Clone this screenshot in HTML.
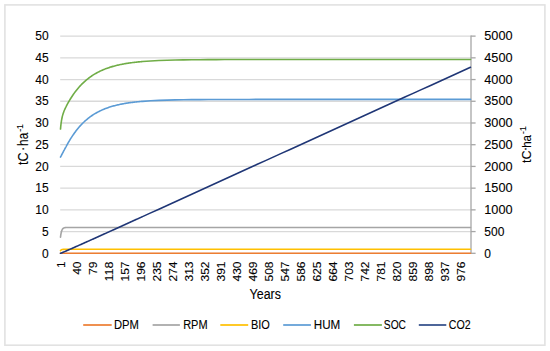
<!DOCTYPE html>
<html><head><meta charset="utf-8"><style>
html,body{margin:0;padding:0;background:#fff;}
body{width:550px;height:351px;overflow:hidden;}
svg{display:block;}
text{font-family:"Liberation Sans",sans-serif;fill:#000;stroke:#000;stroke-width:0.1px;}
</style></head><body>
<svg width="550" height="351" viewBox="0 0 550 351">
<rect x="0" y="0" width="550" height="351" fill="#fff"/>
<rect x="4.9" y="4.9" width="540" height="340.3" fill="none" stroke="#e2e2e2" stroke-width="1.6"/>
<g stroke="#d9d9d9" stroke-width="1.3"><line x1="60.2" y1="231.58" x2="471.0" y2="231.58"/><line x1="60.2" y1="209.86" x2="471.0" y2="209.86"/><line x1="60.2" y1="188.15" x2="471.0" y2="188.15"/><line x1="60.2" y1="166.43" x2="471.0" y2="166.43"/><line x1="60.2" y1="144.71" x2="471.0" y2="144.71"/><line x1="60.2" y1="122.99" x2="471.0" y2="122.99"/><line x1="60.2" y1="101.27" x2="471.0" y2="101.27"/><line x1="60.2" y1="79.56" x2="471.0" y2="79.56"/><line x1="60.2" y1="57.84" x2="471.0" y2="57.84"/><line x1="60.2" y1="36.12" x2="471.0" y2="36.12"/></g>
<line x1="60.2" y1="253.30" x2="471.0" y2="253.30" stroke="#d9d9d9" stroke-width="1.3"/>
<g stroke="#a6a6a6" stroke-width="1.3"><line x1="471.0" y1="253.30" x2="475.6" y2="253.30"/><line x1="471.0" y1="231.58" x2="475.6" y2="231.58"/><line x1="471.0" y1="209.86" x2="475.6" y2="209.86"/><line x1="471.0" y1="188.15" x2="475.6" y2="188.15"/><line x1="471.0" y1="166.43" x2="475.6" y2="166.43"/><line x1="471.0" y1="144.71" x2="475.6" y2="144.71"/><line x1="471.0" y1="122.99" x2="475.6" y2="122.99"/><line x1="471.0" y1="101.27" x2="475.6" y2="101.27"/><line x1="471.0" y1="79.56" x2="475.6" y2="79.56"/><line x1="471.0" y1="57.84" x2="475.6" y2="57.84"/><line x1="471.0" y1="36.12" x2="475.6" y2="36.12"/><line x1="471.0" y1="35.62" x2="471.0" y2="253.80"/></g>
<polyline points="60.50,253.21 61.32,253.21 62.14,253.21 62.96,253.21 63.78,253.21 64.60,253.21 65.42,253.21 66.24,253.21 67.06,253.21 67.88,253.21 68.70,253.21 69.52,253.21 70.34,253.21 71.16,253.21 71.98,253.21 72.80,253.21 73.62,253.21 74.44,253.21 75.26,253.21 76.08,253.21 76.90,253.21 77.72,253.21 78.54,253.21 79.36,253.21 80.18,253.21 81.00,253.21 81.82,253.21 82.64,253.21 83.46,253.21 84.28,253.21 85.10,253.21 85.92,253.21 86.74,253.21 87.56,253.21 88.38,253.21 89.20,253.21 90.02,253.21 90.84,253.21 91.66,253.21 92.48,253.21 93.30,253.21 94.12,253.21 94.94,253.21 95.76,253.21 96.58,253.21 97.40,253.21 98.22,253.21 99.04,253.21 99.86,253.21 100.68,253.21 101.50,253.21 102.32,253.21 103.14,253.21 103.96,253.21 104.78,253.21 105.60,253.21 106.42,253.21 107.24,253.21 108.06,253.21 108.88,253.21 109.70,253.21 110.52,253.21 111.34,253.21 112.16,253.21 112.98,253.21 113.80,253.21 114.62,253.21 115.44,253.21 116.26,253.21 117.08,253.21 117.90,253.21 118.72,253.21 119.54,253.21 120.36,253.21 121.18,253.21 122.00,253.21 122.82,253.21 123.64,253.21 124.46,253.21 125.28,253.21 126.10,253.21 126.92,253.21 127.74,253.21 128.56,253.21 129.38,253.21 130.20,253.21 131.02,253.21 131.84,253.21 132.66,253.21 133.48,253.21 134.30,253.21 135.12,253.21 135.94,253.21 136.76,253.21 137.58,253.21 138.40,253.21 139.22,253.21 140.04,253.21 140.86,253.21 141.68,253.21 142.50,253.21 150.70,253.21 158.90,253.21 167.10,253.21 175.30,253.21 183.50,253.21 191.70,253.21 199.90,253.21 208.10,253.21 216.30,253.21 224.50,253.21 232.70,253.21 240.90,253.21 249.10,253.21 257.30,253.21 265.50,253.21 273.70,253.21 281.90,253.21 290.10,253.21 298.30,253.21 306.50,253.21 314.70,253.21 322.90,253.21 331.10,253.21 339.30,253.21 347.50,253.21 355.70,253.21 363.90,253.21 372.10,253.21 380.30,253.21 388.50,253.21 396.70,253.21 404.90,253.21 413.10,253.21 421.30,253.21 429.50,253.21 437.70,253.21 445.90,253.21 454.10,253.21 462.30,253.21 470.50,253.21" fill="none" stroke="#ED7D31" stroke-width="1.6" stroke-linejoin="round" stroke-linecap="round"/>
<polyline points="60.50,237.19 60.70,235.58 60.91,234.24 61.12,233.13 61.32,232.19 61.52,231.41 61.73,230.76 61.94,230.22 62.14,229.76 62.34,229.38 62.55,229.06 62.76,228.80 62.96,228.58 63.16,228.39 63.37,228.24 63.58,228.11 63.78,228.00 63.98,227.91 64.19,227.84 64.39,227.77 64.60,227.72 64.81,227.68 65.01,227.64 65.22,227.61 65.42,227.58 65.62,227.56 65.83,227.55 66.03,227.53 66.24,227.52 66.44,227.51 66.65,227.50 66.86,227.49 67.06,227.49 67.27,227.48 67.47,227.48 67.67,227.47 67.88,227.47 68.08,227.47 68.29,227.47 68.50,227.46 68.70,227.46 69.52,227.46 70.34,227.46 71.16,227.46 71.98,227.46 72.80,227.46 73.62,227.46 74.44,227.46 75.26,227.46 76.08,227.46 76.90,227.46 77.72,227.46 78.54,227.46 79.36,227.46 80.18,227.46 81.00,227.46 81.82,227.46 82.64,227.46 83.46,227.46 84.28,227.46 85.10,227.46 85.92,227.46 86.74,227.46 87.56,227.46 88.38,227.46 89.20,227.46 90.02,227.46 90.84,227.46 91.66,227.46 92.48,227.46 93.30,227.46 94.12,227.46 94.94,227.46 95.76,227.46 96.58,227.46 97.40,227.46 98.22,227.46 99.04,227.46 99.86,227.46 100.68,227.46 101.50,227.46 102.32,227.46 103.14,227.46 103.96,227.46 104.78,227.46 105.60,227.46 106.42,227.46 107.24,227.46 108.06,227.46 108.88,227.46 109.70,227.46 110.52,227.46 111.34,227.46 112.16,227.46 112.98,227.46 113.80,227.46 114.62,227.46 115.44,227.46 116.26,227.46 117.08,227.46 117.90,227.46 118.72,227.46 119.54,227.46 120.36,227.46 121.18,227.46 122.00,227.46 122.82,227.46 123.64,227.46 124.46,227.46 125.28,227.46 126.10,227.46 126.92,227.46 127.74,227.46 128.56,227.46 129.38,227.46 130.20,227.46 131.02,227.46 131.84,227.46 132.66,227.46 133.48,227.46 134.30,227.46 135.12,227.46 135.94,227.46 136.76,227.46 137.58,227.46 138.40,227.46 139.22,227.46 140.04,227.46 140.86,227.46 141.68,227.46 142.50,227.46 150.70,227.46 158.90,227.46 167.10,227.46 175.30,227.46 183.50,227.46 191.70,227.46 199.90,227.46 208.10,227.46 216.30,227.46 224.50,227.46 232.70,227.46 240.90,227.46 249.10,227.46 257.30,227.46 265.50,227.46 273.70,227.46 281.90,227.46 290.10,227.46 298.30,227.46 306.50,227.46 314.70,227.46 322.90,227.46 331.10,227.46 339.30,227.46 347.50,227.46 355.70,227.46 363.90,227.46 372.10,227.46 380.30,227.46 388.50,227.46 396.70,227.46 404.90,227.46 413.10,227.46 421.30,227.46 429.50,227.46 437.70,227.46 445.90,227.46 454.10,227.46 462.30,227.46 470.50,227.46" fill="none" stroke="#A5A5A5" stroke-width="1.6" stroke-linejoin="round" stroke-linecap="round"/>
<polyline points="60.50,250.69 60.70,250.41 60.91,250.19 61.12,250.01 61.32,249.87 61.52,249.76 61.73,249.66 61.94,249.59 62.14,249.53 62.34,249.49 62.55,249.45 62.76,249.42 62.96,249.40 63.16,249.38 63.37,249.36 63.58,249.35 63.78,249.34 63.98,249.33 64.19,249.33 64.39,249.32 64.60,249.32 64.81,249.32 65.01,249.31 65.22,249.31 65.42,249.31 65.62,249.31 65.83,249.31 66.03,249.31 66.24,249.31 66.44,249.31 66.65,249.31 66.86,249.31 67.06,249.30 67.27,249.30 67.47,249.30 67.67,249.30 67.88,249.30 68.08,249.30 68.29,249.30 68.50,249.30 68.70,249.30 69.52,249.30 70.34,249.30 71.16,249.30 71.98,249.30 72.80,249.30 73.62,249.30 74.44,249.30 75.26,249.30 76.08,249.30 76.90,249.30 77.72,249.30 78.54,249.30 79.36,249.30 80.18,249.30 81.00,249.30 81.82,249.30 82.64,249.30 83.46,249.30 84.28,249.30 85.10,249.30 85.92,249.30 86.74,249.30 87.56,249.30 88.38,249.30 89.20,249.30 90.02,249.30 90.84,249.30 91.66,249.30 92.48,249.30 93.30,249.30 94.12,249.30 94.94,249.30 95.76,249.30 96.58,249.30 97.40,249.30 98.22,249.30 99.04,249.30 99.86,249.30 100.68,249.30 101.50,249.30 102.32,249.30 103.14,249.30 103.96,249.30 104.78,249.30 105.60,249.30 106.42,249.30 107.24,249.30 108.06,249.30 108.88,249.30 109.70,249.30 110.52,249.30 111.34,249.30 112.16,249.30 112.98,249.30 113.80,249.30 114.62,249.30 115.44,249.30 116.26,249.30 117.08,249.30 117.90,249.30 118.72,249.30 119.54,249.30 120.36,249.30 121.18,249.30 122.00,249.30 122.82,249.30 123.64,249.30 124.46,249.30 125.28,249.30 126.10,249.30 126.92,249.30 127.74,249.30 128.56,249.30 129.38,249.30 130.20,249.30 131.02,249.30 131.84,249.30 132.66,249.30 133.48,249.30 134.30,249.30 135.12,249.30 135.94,249.30 136.76,249.30 137.58,249.30 138.40,249.30 139.22,249.30 140.04,249.30 140.86,249.30 141.68,249.30 142.50,249.30 150.70,249.30 158.90,249.30 167.10,249.30 175.30,249.30 183.50,249.30 191.70,249.30 199.90,249.30 208.10,249.30 216.30,249.30 224.50,249.30 232.70,249.30 240.90,249.30 249.10,249.30 257.30,249.30 265.50,249.30 273.70,249.30 281.90,249.30 290.10,249.30 298.30,249.30 306.50,249.30 314.70,249.30 322.90,249.30 331.10,249.30 339.30,249.30 347.50,249.30 355.70,249.30 363.90,249.30 372.10,249.30 380.30,249.30 388.50,249.30 396.70,249.30 404.90,249.30 413.10,249.30 421.30,249.30 429.50,249.30 437.70,249.30 445.90,249.30 454.10,249.30 462.30,249.30 470.50,249.30" fill="none" stroke="#FFC000" stroke-width="1.6" stroke-linejoin="round" stroke-linecap="round"/>
<polyline points="60.50,157.05 60.70,156.67 60.91,156.29 61.12,155.91 61.32,155.52 61.52,155.14 61.73,154.75 61.94,154.36 62.14,153.97 62.34,153.58 62.55,153.19 62.76,152.80 62.96,152.41 63.16,152.02 63.37,151.63 63.58,151.24 63.78,150.85 63.98,150.46 64.19,150.08 64.39,149.69 64.60,149.30 64.81,148.92 65.01,148.54 65.22,148.15 65.42,147.77 65.62,147.39 65.83,147.02 66.03,146.64 66.24,146.27 66.44,145.89 66.65,145.52 66.86,145.15 67.06,144.79 67.27,144.42 67.47,144.06 67.67,143.70 67.88,143.34 68.08,142.98 68.29,142.63 68.50,142.27 68.70,141.92 69.52,140.54 70.34,139.20 71.16,137.89 71.98,136.62 72.80,135.39 73.62,134.19 74.44,133.03 75.26,131.91 76.08,130.82 76.90,129.77 77.72,128.75 78.54,127.77 79.36,126.81 80.18,125.89 81.00,125.00 81.82,124.13 82.64,123.30 83.46,122.49 84.28,121.72 85.10,120.96 85.92,120.23 86.74,119.53 87.56,118.85 88.38,118.19 89.20,117.56 90.02,116.95 90.84,116.35 91.66,115.78 92.48,115.23 93.30,114.69 94.12,114.18 94.94,113.68 95.76,113.19 96.58,112.73 97.40,112.28 98.22,111.84 99.04,111.42 99.86,111.02 100.68,110.62 101.50,110.24 102.32,109.88 103.14,109.52 103.96,109.18 104.78,108.85 105.60,108.53 106.42,108.22 107.24,107.92 108.06,107.64 108.88,107.36 109.70,107.09 110.52,106.83 111.34,106.58 112.16,106.34 112.98,106.10 113.80,105.88 114.62,105.66 115.44,105.45 116.26,105.24 117.08,105.04 117.90,104.85 118.72,104.67 119.54,104.49 120.36,104.32 121.18,104.15 122.00,103.99 122.82,103.84 123.64,103.69 124.46,103.54 125.28,103.40 126.10,103.27 126.92,103.14 127.74,103.01 128.56,102.89 129.38,102.77 130.20,102.66 131.02,102.55 131.84,102.44 132.66,102.34 133.48,102.24 134.30,102.14 135.12,102.05 135.94,101.96 136.76,101.88 137.58,101.79 138.40,101.71 139.22,101.63 140.04,101.56 140.86,101.49 141.68,101.41 142.50,101.35 150.70,100.78 158.90,100.38 167.10,100.10 175.30,99.90 183.50,99.75 191.70,99.65 199.90,99.58 208.10,99.53 216.30,99.49 224.50,99.47 232.70,99.45 240.90,99.44 249.10,99.43 257.30,99.42 265.50,99.42 273.70,99.41 281.90,99.41 290.10,99.41 298.30,99.41 306.50,99.41 314.70,99.41 322.90,99.41 331.10,99.41 339.30,99.41 347.50,99.41 355.70,99.41 363.90,99.41 372.10,99.41 380.30,99.41 388.50,99.41 396.70,99.41 404.90,99.41 413.10,99.41 421.30,99.41 429.50,99.41 437.70,99.41 445.90,99.41 454.10,99.41 462.30,99.41 470.50,99.41" fill="none" stroke="#5B9BD5" stroke-width="1.6" stroke-linejoin="round" stroke-linecap="round"/>
<polyline points="60.50,129.07 60.70,126.86 60.91,124.94 61.12,123.25 61.32,121.77 61.52,120.45 61.73,119.28 61.94,118.23 62.14,117.27 62.34,116.40 62.55,115.61 62.76,114.87 62.96,114.18 63.16,113.53 63.37,112.92 63.58,112.35 63.78,111.79 63.98,111.26 64.19,110.76 64.39,110.26 64.60,109.78 64.81,109.32 65.01,108.87 65.22,108.42 65.42,107.99 65.62,107.56 65.83,107.14 66.03,106.72 66.24,106.32 66.44,105.91 66.65,105.52 66.86,105.12 67.06,104.74 67.27,104.35 67.47,103.97 67.67,103.60 67.88,103.23 68.08,102.86 68.29,102.49 68.50,102.13 68.70,101.77 69.52,100.37 70.34,99.02 71.16,97.71 71.98,96.45 72.80,95.23 73.62,94.05 74.44,92.90 75.26,91.80 76.08,90.73 76.90,89.70 77.72,88.70 78.54,87.74 79.36,86.80 80.18,85.90 81.00,85.03 81.82,84.18 82.64,83.37 83.46,82.58 84.28,81.82 85.10,81.08 85.92,80.37 86.74,79.68 87.56,79.01 88.38,78.36 89.20,77.74 90.02,77.14 90.84,76.55 91.66,75.99 92.48,75.44 93.30,74.92 94.12,74.41 94.94,73.91 95.76,73.44 96.58,72.98 97.40,72.53 98.22,72.10 99.04,71.68 99.86,71.28 100.68,70.89 101.50,70.51 102.32,70.15 103.14,69.80 103.96,69.46 104.78,69.13 105.60,68.81 106.42,68.50 107.24,68.20 108.06,67.92 108.88,67.64 109.70,67.37 110.52,67.11 111.34,66.86 112.16,66.61 112.98,66.38 113.80,66.15 114.62,65.93 115.44,65.72 116.26,65.51 117.08,65.31 117.90,65.12 118.72,64.93 119.54,64.75 120.36,64.58 121.18,64.41 122.00,64.25 122.82,64.09 123.64,63.94 124.46,63.79 125.28,63.65 126.10,63.51 126.92,63.38 127.74,63.25 128.56,63.13 129.38,63.01 130.20,62.89 131.02,62.78 131.84,62.67 132.66,62.56 133.48,62.46 134.30,62.36 135.12,62.27 135.94,62.18 136.76,62.09 137.58,62.00 138.40,61.92 139.22,61.84 140.04,61.76 140.86,61.69 141.68,61.61 142.50,61.54 150.70,60.96 158.90,60.54 167.10,60.24 175.30,60.02 183.50,59.87 191.70,59.76 199.90,59.68 208.10,59.63 216.30,59.59 224.50,59.56 232.70,59.54 240.90,59.53 249.10,59.51 257.30,59.51 265.50,59.50 273.70,59.50 281.90,59.50 290.10,59.49 298.30,59.49 306.50,59.49 314.70,59.49 322.90,59.49 331.10,59.49 339.30,59.49 347.50,59.49 355.70,59.49 363.90,59.49 372.10,59.49 380.30,59.49 388.50,59.49 396.70,59.49 404.90,59.49 413.10,59.49 421.30,59.49 429.50,59.49 437.70,59.49 445.90,59.49 454.10,59.49 462.30,59.49 470.50,59.49" fill="none" stroke="#70AD47" stroke-width="1.6" stroke-linejoin="round" stroke-linecap="round"/>
<polyline points="60.50,253.30 61.32,253.00 62.14,252.67 62.96,252.33 63.78,251.98 64.60,251.63 65.42,251.27 66.24,250.91 67.06,250.55 67.88,250.20 68.70,249.84 69.52,249.48 70.34,249.12 71.16,248.76 71.98,248.40 72.80,248.04 73.62,247.67 74.44,247.31 75.26,246.95 76.08,246.59 76.90,246.22 77.72,245.86 78.54,245.50 79.36,245.13 80.18,244.77 81.00,244.40 81.82,244.04 82.64,243.67 83.46,243.31 84.28,242.94 85.10,242.57 85.92,242.21 86.74,241.84 87.56,241.47 88.38,241.11 89.20,240.74 90.02,240.37 90.84,240.00 91.66,239.64 92.48,239.27 93.30,238.90 94.12,238.53 94.94,238.16 95.76,237.79 96.58,237.42 97.40,237.06 98.22,236.69 99.04,236.32 99.86,235.95 100.68,235.58 101.50,235.21 102.32,234.84 103.14,234.47 103.96,234.10 104.78,233.73 105.60,233.36 106.42,232.99 107.24,232.62 108.06,232.25 108.88,231.87 109.70,231.50 110.52,231.13 111.34,230.76 112.16,230.39 112.98,230.02 113.80,229.65 114.62,229.28 115.44,228.91 116.26,228.53 117.08,228.16 117.90,227.79 118.72,227.42 119.54,227.05 120.36,226.68 121.18,226.30 122.00,225.93 122.82,225.56 123.64,225.19 124.46,224.82 125.28,224.44 126.10,224.07 126.92,223.70 127.74,223.33 128.56,222.95 129.38,222.58 130.20,222.21 131.02,221.84 131.84,221.47 132.66,221.09 133.48,220.72 134.30,220.35 135.12,219.97 135.94,219.60 136.76,219.23 137.58,218.86 138.40,218.48 139.22,218.11 140.04,217.74 140.86,217.37 141.68,216.99 142.50,216.62 150.70,212.89 158.90,209.16 167.10,205.43 175.30,201.69 183.50,197.96 191.70,194.22 199.90,190.49 208.10,186.76 216.30,183.02 224.50,179.28 232.70,175.55 240.90,171.81 249.10,168.08 257.30,164.34 265.50,160.61 273.70,156.87 281.90,153.14 290.10,149.40 298.30,145.67 306.50,141.93 314.70,138.19 322.90,134.46 331.10,130.72 339.30,126.99 347.50,123.25 355.70,119.52 363.90,115.78 372.10,112.05 380.30,108.31 388.50,104.58 396.70,100.84 404.90,97.10 413.10,93.37 421.30,89.63 429.50,85.90 437.70,82.16 445.90,78.43 454.10,74.69 462.30,70.96 470.50,67.22 470.50,67.22" fill="none" stroke="#1F3676" stroke-width="1.6" stroke-linejoin="round" stroke-linecap="round"/>
<g font-size="12"><text x="48.7" y="257.50" text-anchor="end">0</text><text x="48.7" y="235.78" text-anchor="end">5</text><text x="48.7" y="214.06" text-anchor="end">10</text><text x="48.7" y="192.35" text-anchor="end">15</text><text x="48.7" y="170.63" text-anchor="end">20</text><text x="48.7" y="148.91" text-anchor="end">25</text><text x="48.7" y="127.19" text-anchor="end">30</text><text x="48.7" y="105.47" text-anchor="end">35</text><text x="48.7" y="83.76" text-anchor="end">40</text><text x="48.7" y="62.04" text-anchor="end">45</text><text x="48.7" y="40.32" text-anchor="end">50</text></g>
<g font-size="12"><text x="484.3" y="257.50">0</text><text x="484.3" y="235.78">500</text><text x="484.3" y="214.06" textLength="28.3" lengthAdjust="spacingAndGlyphs">1000</text><text x="484.3" y="192.35" textLength="28.3" lengthAdjust="spacingAndGlyphs">1500</text><text x="484.3" y="170.63" textLength="28.3" lengthAdjust="spacingAndGlyphs">2000</text><text x="484.3" y="148.91" textLength="28.3" lengthAdjust="spacingAndGlyphs">2500</text><text x="484.3" y="127.19" textLength="28.3" lengthAdjust="spacingAndGlyphs">3000</text><text x="484.3" y="105.47" textLength="28.3" lengthAdjust="spacingAndGlyphs">3500</text><text x="484.3" y="83.76" textLength="28.3" lengthAdjust="spacingAndGlyphs">4000</text><text x="484.3" y="62.04" textLength="28.3" lengthAdjust="spacingAndGlyphs">4500</text><text x="484.3" y="40.32" textLength="28.3" lengthAdjust="spacingAndGlyphs">5000</text></g>
<g font-size="11"><text transform="translate(65.10,261.5) rotate(-90)" text-anchor="end">1</text><text transform="translate(81.09,261.5) rotate(-90)" text-anchor="end" textLength="13.35" lengthAdjust="spacingAndGlyphs">40</text><text transform="translate(97.08,261.5) rotate(-90)" text-anchor="end" textLength="13.35" lengthAdjust="spacingAndGlyphs">79</text><text transform="translate(113.07,261.5) rotate(-90)" text-anchor="end" textLength="20.02" lengthAdjust="spacingAndGlyphs">118</text><text transform="translate(129.06,261.5) rotate(-90)" text-anchor="end" textLength="20.02" lengthAdjust="spacingAndGlyphs">157</text><text transform="translate(145.05,261.5) rotate(-90)" text-anchor="end" textLength="20.02" lengthAdjust="spacingAndGlyphs">196</text><text transform="translate(161.04,261.5) rotate(-90)" text-anchor="end" textLength="20.02" lengthAdjust="spacingAndGlyphs">235</text><text transform="translate(177.03,261.5) rotate(-90)" text-anchor="end" textLength="20.02" lengthAdjust="spacingAndGlyphs">274</text><text transform="translate(193.02,261.5) rotate(-90)" text-anchor="end" textLength="20.02" lengthAdjust="spacingAndGlyphs">313</text><text transform="translate(209.01,261.5) rotate(-90)" text-anchor="end" textLength="20.02" lengthAdjust="spacingAndGlyphs">352</text><text transform="translate(225.00,261.5) rotate(-90)" text-anchor="end" textLength="20.02" lengthAdjust="spacingAndGlyphs">391</text><text transform="translate(240.99,261.5) rotate(-90)" text-anchor="end" textLength="20.02" lengthAdjust="spacingAndGlyphs">430</text><text transform="translate(256.98,261.5) rotate(-90)" text-anchor="end" textLength="20.02" lengthAdjust="spacingAndGlyphs">469</text><text transform="translate(272.97,261.5) rotate(-90)" text-anchor="end" textLength="20.02" lengthAdjust="spacingAndGlyphs">508</text><text transform="translate(288.96,261.5) rotate(-90)" text-anchor="end" textLength="20.02" lengthAdjust="spacingAndGlyphs">547</text><text transform="translate(304.95,261.5) rotate(-90)" text-anchor="end" textLength="20.02" lengthAdjust="spacingAndGlyphs">586</text><text transform="translate(320.94,261.5) rotate(-90)" text-anchor="end" textLength="20.02" lengthAdjust="spacingAndGlyphs">625</text><text transform="translate(336.93,261.5) rotate(-90)" text-anchor="end" textLength="20.02" lengthAdjust="spacingAndGlyphs">664</text><text transform="translate(352.92,261.5) rotate(-90)" text-anchor="end" textLength="20.02" lengthAdjust="spacingAndGlyphs">703</text><text transform="translate(368.91,261.5) rotate(-90)" text-anchor="end" textLength="20.02" lengthAdjust="spacingAndGlyphs">742</text><text transform="translate(384.90,261.5) rotate(-90)" text-anchor="end" textLength="20.02" lengthAdjust="spacingAndGlyphs">781</text><text transform="translate(400.89,261.5) rotate(-90)" text-anchor="end" textLength="20.02" lengthAdjust="spacingAndGlyphs">820</text><text transform="translate(416.88,261.5) rotate(-90)" text-anchor="end" textLength="20.02" lengthAdjust="spacingAndGlyphs">859</text><text transform="translate(432.87,261.5) rotate(-90)" text-anchor="end" textLength="20.02" lengthAdjust="spacingAndGlyphs">898</text><text transform="translate(448.86,261.5) rotate(-90)" text-anchor="end" textLength="20.02" lengthAdjust="spacingAndGlyphs">937</text><text transform="translate(464.85,261.5) rotate(-90)" text-anchor="end" textLength="20.02" lengthAdjust="spacingAndGlyphs">976</text></g>
<text x="249.6" y="298.7" font-size="13.8" textLength="31.3" lengthAdjust="spacingAndGlyphs">Years</text>
<g transform="translate(27.90,164.60) rotate(-90)"><text x="-0.30" y="0.00" font-size="14.20" textLength="12.60" lengthAdjust="spacingAndGlyphs">tC</text><text x="13.30" y="-1.40" font-size="14.20">·</text><text x="18.70" y="0.00" font-size="14.20" textLength="13.20" lengthAdjust="spacingAndGlyphs">ha</text><text x="32.90" y="-4.60" font-size="9.00">-</text><text x="35.60" y="-4.60" font-size="9.00">1</text></g>
<g transform="translate(530.60,162.80) rotate(-90)"><text x="-0.30" y="0.00" font-size="13.60" textLength="12.60" lengthAdjust="spacingAndGlyphs">tC</text><text x="11.60" y="-1.60" font-size="13.60">·</text><text x="15.00" y="0.00" font-size="13.60" textLength="12.80" lengthAdjust="spacingAndGlyphs">ha</text><text x="28.90" y="-4.30" font-size="8.80">-</text><text x="31.80" y="-4.30" font-size="8.80">1</text></g>
<line x1="83.2" y1="325" x2="111.7" y2="325" stroke="#ED7D31" stroke-width="1.7"/><text x="114.0" y="328.9" font-size="12" textLength="24.9" lengthAdjust="spacingAndGlyphs">DPM</text><line x1="152.6" y1="325" x2="179.9" y2="325" stroke="#A5A5A5" stroke-width="1.7"/><text x="183.2" y="328.9" font-size="12" textLength="24.4" lengthAdjust="spacingAndGlyphs">RPM</text><line x1="220.3" y1="325" x2="248.2" y2="325" stroke="#FFC000" stroke-width="1.7"/><text x="250.9" y="328.9" font-size="12" textLength="18.9" lengthAdjust="spacingAndGlyphs">BIO</text><line x1="283.2" y1="325" x2="310.9" y2="325" stroke="#5B9BD5" stroke-width="1.7"/><text x="313.8" y="328.9" font-size="12" textLength="26.5" lengthAdjust="spacingAndGlyphs">HUM</text><line x1="353.9" y1="325" x2="381.9" y2="325" stroke="#70AD47" stroke-width="1.7"/><text x="383.8" y="328.9" font-size="12" textLength="22.2" lengthAdjust="spacingAndGlyphs">SOC</text><line x1="418.8" y1="325" x2="446.3" y2="325" stroke="#2F4B87" stroke-width="1.7"/><text x="448.7" y="328.9" font-size="12" textLength="21.9" lengthAdjust="spacingAndGlyphs">CO2</text>
</svg>
</body></html>
